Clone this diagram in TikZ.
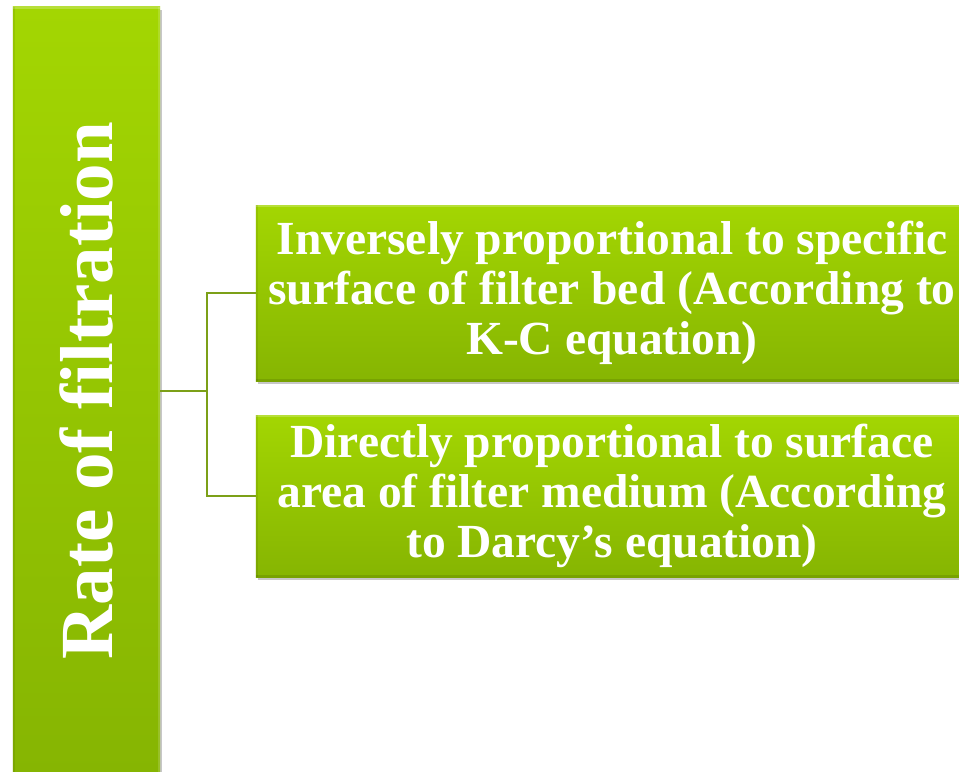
\documentclass[tikz,border=0pt]{standalone}
\usepackage{fontspec}
\setmainfont{Liberation Serif}
\usetikzlibrary{shadows}
\definecolor{gtop}{RGB}{163,214,2}
\definecolor{gbot}{RGB}{134,181,2}
\definecolor{gline}{RGB}{124,160,24}
\begin{document}
\begin{tikzpicture}[x=1bp,y=-1bp,
  greenbox/.style={rectangle, inner sep=0pt, draw=none,
    top color=gtop, bottom color=gbot,
    drop shadow={shadow xshift=2bp, shadow yshift=-3bp, opacity=0.22, fill=black},
    path picture={
      \draw[white, opacity=0.22, line width=4bp]
        (path picture bounding box.north west) -- (path picture bounding box.north east);
      \draw[white, opacity=0.15, line width=5bp]
        (path picture bounding box.north east) -- (path picture bounding box.south east);
      \draw[black, opacity=0.08, line width=5bp]
        (path picture bounding box.north west) -- (path picture bounding box.south west);
      \draw[black, opacity=0.10, line width=4bp]
        (path picture bounding box.south west) -- (path picture bounding box.south east);
    }},
  boxtext/.style={text=white, font=\bfseries\fontsize{47.5bp}{50bp}\selectfont, align=center},
  conn/.style={draw=gline, line width=2bp},
]
\useasboundingbox (0,0) rectangle (959,772);
\clip (0,0) rectangle (959,772);
\fill[white] (0,0) rectangle (959,772);

\node[greenbox, minimum width=147bp, minimum height=767bp] (bar) at (86.5,390.5) {};
\node[rotate=90, text=white, font=\bfseries\fontsize{75bp}{80bp}\selectfont] (bartext) at (bar.center) {Rate of filtration};

\node[greenbox, minimum width=712bp, minimum height=176bp] (box1) at (612,293) {};
\node[boxtext] (t1) at (box1.center) {Inversely proportional to specific\\surface of filter bed (According to\\K-C equation)};

\node[greenbox, minimum width=712bp, minimum height=162bp] (box2) at (612,496) {};
\node[boxtext] (t2) at (box2.center) {Directly proportional to surface\\area of filter medium (According\\to Darcy’s equation)};

\coordinate (j) at (207,391);
\draw[conn] (bar.east |- j) -- (j);
\draw[conn] (box1.west) -- (box1.west -| j) -- (box2.west -| j) -- (box2.west);
\end{tikzpicture}
\end{document}
